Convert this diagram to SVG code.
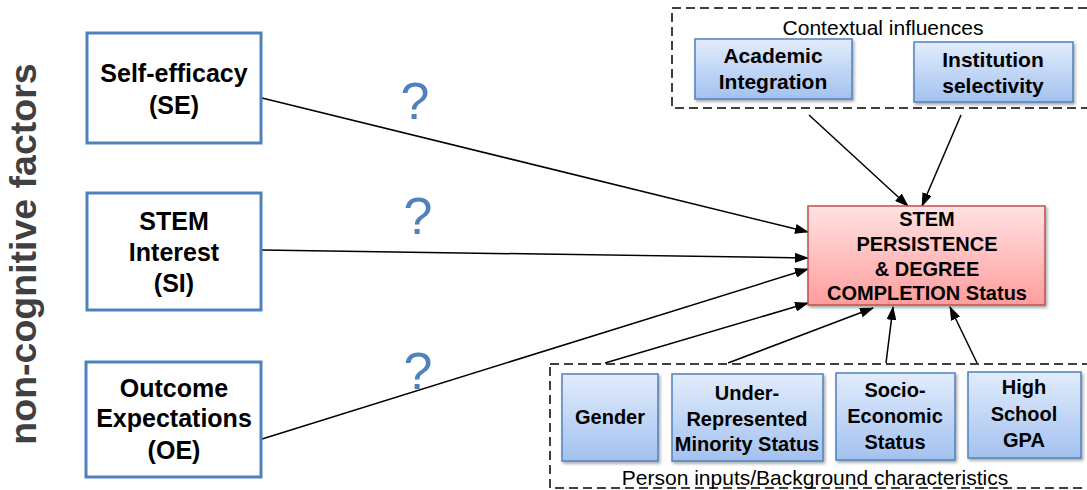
<svg xmlns="http://www.w3.org/2000/svg" width="1087" height="490" viewBox="0 0 1087 490">
<defs>
<linearGradient id="gBlue" x1="0" y1="0" x2="0" y2="1">
<stop offset="0" stop-color="#e2ecfc"/>
<stop offset="1" stop-color="#a3c1ef"/>
</linearGradient>
<linearGradient id="gRed" x1="0" y1="0" x2="0" y2="1">
<stop offset="0" stop-color="#ffe2e2"/>
<stop offset="1" stop-color="#ff9d9d"/>
</linearGradient>
<filter id="sh" x="-10%" y="-10%" width="125%" height="125%">
<feDropShadow dx="1.5" dy="2" stdDeviation="1.5" flood-color="#000" flood-opacity="0.35"/>
</filter>
<marker id="arr" markerUnits="userSpaceOnUse" markerWidth="14" markerHeight="10" refX="13" refY="5" orient="auto">
<path d="M0,0 L14,5 L0,10 z" fill="#000"/>
</marker>
</defs>
<style>
.lbox{fill:#fff;stroke:#4f81bd;stroke-width:3}
.bbox{fill:url(#gBlue);stroke:#4f81bd;stroke-width:1.5;filter:url(#sh)}
.rbox{fill:url(#gRed);stroke:#c0504d;stroke-width:1.5;filter:url(#sh)}
.dash{fill:none;stroke:#000;stroke-width:1.5;stroke-dasharray:9,5}
.t{font-family:"Liberation Sans",Arial,sans-serif;font-weight:bold;text-anchor:middle;fill:#000}
.t25{font-size:25px}
.t20{font-size:20px}
.t21{font-size:21px}
.reg{font-family:"Liberation Sans",Arial,sans-serif;font-size:21px;text-anchor:middle;fill:#000}
.q{font-family:"Liberation Sans",Arial,sans-serif;font-size:52px;text-anchor:middle;fill:#4f81bd}
.c{fill:none;stroke:#000;stroke-width:1.5;marker-end:url(#arr)}
</style>

<text class="t" transform="translate(36,254) rotate(-90)" style="font-size:37.5px;fill:#404040">non-cognitive factors</text>

<g id="contextual-group">
<rect class="dash" x="672" y="8" width="425" height="100"/>
<text class="reg" x="883" y="35">Contextual influences</text>
</g>
<g id="person-group">
<rect class="dash" x="550" y="364" width="547" height="124"/>
<text class="reg" x="815" y="485">Person inputs/Background characteristics</text>
</g>

<g id="connectors">
<line class="c" x1="262" y1="98" x2="808" y2="232"/>
<line class="c" x1="262" y1="250" x2="808" y2="258"/>
<line class="c" x1="262" y1="439" x2="808" y2="269"/>
<line class="c" x1="809" y1="115" x2="908" y2="206"/>
<line class="c" x1="961" y1="115" x2="922" y2="206"/>
<line class="c" x1="605" y1="363" x2="808" y2="303"/>
<line class="c" x1="728" y1="363" x2="873" y2="308"/>
<line class="c" x1="886" y1="363" x2="893" y2="307"/>
<line class="c" x1="977" y1="363" x2="950" y2="307"/>
</g>

<text class="q" x="415" y="119">?</text>
<text class="q" x="418" y="234">?</text>
<text class="q" x="418" y="389">?</text>

<g id="se">
<rect class="lbox" x="87" y="33" width="174" height="110"/>
<text class="t t25" x="174" y="82">Self-efficacy</text>
<text class="t t25" x="174" y="114">(SE)</text>
</g>
<g id="si">
<rect class="lbox" x="87" y="193" width="174" height="117"/>
<text class="t t25" x="174" y="230">STEM</text>
<text class="t t25" x="174" y="261">Interest</text>
<text class="t t25" x="174" y="292">(SI)</text>
</g>
<g id="oe">
<rect class="lbox" x="86" y="362" width="175" height="115"/>
<text class="t t25" x="174" y="397">Outcome</text>
<text class="t t25" x="174" y="427">Expectations</text>
<text class="t t25" x="174" y="459">(OE)</text>
</g>

<g id="outcome">
<rect class="rbox" x="808" y="206" width="237" height="99"/>
<text class="t t20" x="927" y="226">STEM</text>
<text class="t t20" x="927" y="251">PERSISTENCE</text>
<text class="t t20" x="927" y="276">&amp; DEGREE</text>
<text class="t t20" x="927" y="300">COMPLETION Status</text>
</g>

<g id="academic">
<rect class="bbox" x="695" y="39" width="157" height="60"/>
<text class="t t21" x="773" y="63">Academic</text>
<text class="t t21" x="773" y="89">Integration</text>
</g>
<g id="institution">
<rect class="bbox" x="914" y="42" width="159" height="60"/>
<text class="t t21" x="993" y="67">Institution</text>
<text class="t t21" x="993" y="93">selectivity</text>
</g>

<g id="gender">
<rect class="bbox" x="562" y="374" width="96" height="87"/>
<text class="t t20" x="610" y="424">Gender</text>
</g>
<g id="urm">
<rect class="bbox" x="672" y="374" width="151" height="87"/>
<text class="t t20" x="747" y="400">Under-</text>
<text class="t t20" x="747" y="426">Represented</text>
<text class="t t20" x="747" y="451">Minority Status</text>
</g>
<g id="ses">
<rect class="bbox" x="836" y="373" width="119" height="87"/>
<text class="t t20" x="895" y="397">Socio-</text>
<text class="t t20" x="895" y="423">Economic</text>
<text class="t t20" x="895" y="449">Status</text>
</g>
<g id="gpa">
<rect class="bbox" x="968" y="372" width="113" height="86"/>
<text class="t t20" x="1024" y="394">High</text>
<text class="t t20" x="1024" y="421">School</text>
<text class="t t20" x="1024" y="447">GPA</text>
</g>
</svg>
